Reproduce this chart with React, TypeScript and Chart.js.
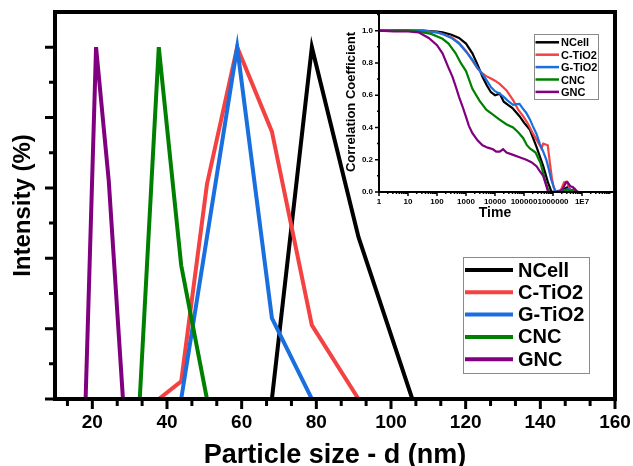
import React, { useEffect, useRef } from 'react';
import { Chart, registerables } from 'chart.js';

Chart.register(...registerables);

const FONT = "'Liberation Sans', Arial, sans-serif";

// ---------- series ----------
const seriesNames = ['NCell', 'C-TiO2', 'G-TiO2', 'CNC', 'GNC'];
const seriesColors = ['#000000', '#F44242', '#1A6FDF', '#008000', '#800080'];

// ---------- main chart: particle size distribution ----------
const ncellSize = [68.1, 78.8, 91.3, 105.7];
const ncellIntensity = [0, 100, 46, 0];
const ctio2Size = [37.8, 43.8, 50.7, 58.8, 68.1, 78.8, 91.3];
const ctio2Intensity = [0, 5, 61, 100, 76, 21, 0];
const gtio2Size = [43.8, 58.8, 68.1, 78.8];
const gtio2Intensity = [0, 100, 23, 0];
const cncSize = [32.7, 37.8, 43.8, 50.7];
const cncIntensity = [0, 100, 38, 0];
const gncSize = [18.2, 21.0, 24.4, 28.2];
const gncIntensity = [0, 100, 62, 0];

const sizeTickValues = [20, 40, 60, 80, 100, 120, 140, 160];
const intensityTickValues = [0, 20, 40, 60, 80, 100];

// ---------- inset: correlation function ----------
const ncellTime = [1, 32, 100, 155, 316, 575, 1000, 1660, 2500, 3700, 5250, 7200, 1e4, 1.45e4, 2e4, 2.8e4, 4e4, 7e4, 1e5, 1.6e5, 2.7e5, 4.6e5, 6.8e5, 8.9e5, 2e6, 3.2e6, 5e6, 1e8];
const ncellCorr = [1, 1, 0.995, 0.99, 0.975, 0.955, 0.92, 0.86, 0.79, 0.715, 0.66, 0.62, 0.6, 0.61, 0.56, 0.54, 0.52, 0.47, 0.43, 0.385, 0.28, 0.16, 0.056, 0, 0.01, 0.03, 0, 0];

const ctio2Time = [1, 32, 100, 155, 316, 575, 1000, 1660, 2500, 3700, 4800, 7000, 1e4, 1.45e4, 2.5e4, 4.2e4, 6.3e4, 9.3e4, 1.4e5, 2e5, 2.8e5, 3.5e5, 4e5, 4.6e5, 5.6e5, 6.6e5, 7.8e5, 9.1e5, 1.05e6, 1.26e6, 1.8e6, 2.4e6, 3e6, 3.5e6, 4.3e6, 5.6e6, 7e6, 1e8];
const ctio2Corr = [1, 1, 0.99, 0.98, 0.96, 0.925, 0.875, 0.815, 0.765, 0.735, 0.72, 0.705, 0.69, 0.67, 0.63, 0.57, 0.51, 0.47, 0.42, 0.365, 0.32, 0.29, 0.27, 0.3, 0.295, 0.29, 0.18, 0.09, 0.03, 0, 0.005, 0.06, 0.065, 0.03, 0, 0.01, 0, 0];

const gtio2Time = [1, 32, 100, 155, 316, 575, 1000, 1660, 2500, 3700, 5250, 7200, 1e4, 1.45e4, 2e4, 2.8e4, 4.2e4, 5.6e4, 7e4, 8.9e4, 1.2e5, 1.6e5, 2e5, 2.7e5, 3.5e5, 4.6e5, 5.9e5, 7.2e5, 8.7e5, 1.15e6, 1.3e6, 2.5e6, 3.5e6, 5e6, 1e8];
const gtio2Corr = [1, 1, 0.99, 0.98, 0.955, 0.92, 0.87, 0.82, 0.77, 0.73, 0.69, 0.65, 0.625, 0.61, 0.59, 0.565, 0.54, 0.545, 0.546, 0.52, 0.49, 0.45, 0.41, 0.36, 0.3, 0.25, 0.2, 0.14, 0.076, 0.014, 0, 0.01, 0.02, 0, 0];

const cncTime = [1, 10, 21, 63, 155, 250, 440, 660, 1000, 1660, 2950, 5000, 8500, 1.4e4, 2.45e4, 4.2e4, 6.3e4, 9.3e4, 1.26e5, 1.6e5, 2.5e5, 3.7e5, 5.2e5, 6.6e5, 7.6e5, 2e6, 3.2e6, 4e6, 5.6e6, 7e6, 1e8];
const cncCorr = [1, 1, 0.995, 0.98, 0.95, 0.92, 0.86, 0.8, 0.75, 0.64, 0.565, 0.51, 0.48, 0.45, 0.42, 0.4, 0.37, 0.335, 0.29, 0.27, 0.245, 0.18, 0.08, 0.02, 0, 0, 0.015, 0.005, 0.02, 0, 0];

const gncTime = [1, 3.2, 10, 23, 52, 100, 155, 250, 340, 450, 575, 760, 980, 1260, 1660, 2500, 3700, 5600, 8500, 1.1e4, 1.45e4, 1.9e4, 2.5e4, 4.2e4, 7e4, 1.2e5, 1.8e5, 2.7e5, 3.5e5, 4.6e5, 5.6e5, 6.8e5, 1.6e6, 2.2e6, 2.8e6, 3.2e6, 4e6, 4.9e6, 6.3e6, 7.9e6, 1e8];
const gncCorr = [1, 0.995, 0.995, 0.99, 0.955, 0.91, 0.86, 0.77, 0.715, 0.65, 0.59, 0.53, 0.47, 0.41, 0.365, 0.32, 0.29, 0.275, 0.265, 0.25, 0.25, 0.265, 0.245, 0.23, 0.215, 0.2, 0.185, 0.16, 0.13, 0.1, 0.05, 0, 0, 0.02, 0.06, 0.06, 0.035, 0.03, 0.005, 0, 0];

const timeTickValues = [1, 10, 100, 1000, 10000, 100000, 1000000, 10000000];
const timeTickLabels = ['1', '10', '100', '1000', '10000', '100000', '1000000', '1E7'];
const corrTickValues = [0, 0.2, 0.4, 0.6, 0.8, 1.0];

function pairs(xs: number[], ys: number[]) {
  return xs.map((x, i) => ({ x, y: ys[i] }));
}

const sizeSeries = [
  pairs(ncellSize, ncellIntensity),
  pairs(ctio2Size, ctio2Intensity),
  pairs(gtio2Size, gtio2Intensity),
  pairs(cncSize, cncIntensity),
  pairs(gncSize, gncIntensity),
];
const corrSeries = [
  pairs(ncellTime, ncellCorr),
  pairs(ctio2Time, ctio2Corr),
  pairs(gtio2Time, gtio2Corr),
  pairs(cncTime, cncCorr),
  pairs(gncTime, gncCorr),
];

function fixSize(prop: 'width' | 'height', size: number) {
  return (s: any) => {
    s[prop] = size;
    s.paddingLeft = 0;
    s.paddingRight = 0;
    s.paddingTop = 0;
    s.paddingBottom = 0;
  };
}

// ---------- plugins ----------
const boxLegend = {
  id: 'boxLegend',
  afterDraw(chart: any, _args: any, opts: any) {
    if (!opts || !opts.show) return;
    const { ctx } = chart;
    ctx.save();
    ctx.strokeStyle = '#8a8a8a';
    ctx.lineWidth = 1;
    ctx.fillStyle = '#ffffff';
    ctx.fillRect(opts.left, opts.top, opts.width, opts.height);
    ctx.strokeRect(opts.left + 0.5, opts.top + 0.5, opts.width, opts.height);
    ctx.font = `bold ${opts.fontSize}px ${FONT}`;
    ctx.textBaseline = 'middle';
    ctx.textAlign = 'left';
    chart.data.datasets.forEach((ds: any, i: number) => {
      const y = opts.rowStart + i * opts.rowGap;
      ctx.strokeStyle = ds.borderColor;
      ctx.lineWidth = opts.lineWidth;
      ctx.beginPath();
      ctx.moveTo(opts.lineX, y);
      ctx.lineTo(opts.lineX + opts.lineLen, y);
      ctx.stroke();
      ctx.fillStyle = '#000';
      ctx.fillText(ds.label, opts.textX, y + 1);
    });
    ctx.restore();
  },
};

const mainAxes = {
  id: 'mainAxes',
  afterDatasetsDraw(chart: any) {
    const { ctx, chartArea: a } = chart;
    const xs = chart.scales.x;
    const ys = chart.scales.y;
    ctx.save();
    ctx.strokeStyle = '#000';
    ctx.lineCap = 'butt';
    ctx.lineWidth = 3;
    ctx.beginPath();
    sizeTickValues.forEach((v) => {
      const p = xs.getPixelForValue(v);
      ctx.moveTo(p, a.bottom);
      ctx.lineTo(p, a.bottom + 10);
    });
    for (let m = 0; m <= 160; m += 20) {
      [m + 20 / 3, m + 40 / 3].forEach((v) => {
        if (v > xs.min && v < xs.max) {
          const p = xs.getPixelForValue(v);
          ctx.moveTo(p, a.bottom);
          ctx.lineTo(p, a.bottom + 7);
        }
      });
    }
    intensityTickValues.forEach((v) => {
      const p = ys.getPixelForValue(v);
      ctx.moveTo(a.left, p);
      ctx.lineTo(a.left - 10, p);
      const mv = v + 10;
      if (mv < ys.max) {
        const q = ys.getPixelForValue(mv);
        ctx.moveTo(a.left, q);
        ctx.lineTo(a.left - 6, q);
      }
    });
    ctx.stroke();
    ctx.lineWidth = 4;
    ctx.strokeRect(a.left, a.top, a.right - a.left, a.bottom - a.top);
    ctx.restore();
  },
};

const insetAxes = {
  id: 'insetAxes',
  afterDatasetsDraw(chart: any) {
    const { ctx, chartArea: a } = chart;
    const xs = chart.scales.x;
    const ys = chart.scales.y;
    ctx.save();
    ctx.strokeStyle = '#000';
    ctx.lineWidth = 1.5;
    ctx.beginPath();
    timeTickValues.forEach((v) => {
      const p = xs.getPixelForValue(v);
      ctx.moveTo(p, a.bottom);
      ctx.lineTo(p, a.bottom + 4);
      for (let k = 2; k < 10; k++) {
        const mv = v * k;
        if (mv < xs.max) {
          const q = xs.getPixelForValue(mv);
          ctx.moveTo(q, a.bottom);
          ctx.lineTo(q, a.bottom + 2);
        }
      }
    });
    corrTickValues.forEach((v) => {
      const p = ys.getPixelForValue(v);
      ctx.moveTo(a.left, p);
      ctx.lineTo(a.left - 4, p);
      const mv = v + 0.1;
      if (mv < ys.max) {
        const q = ys.getPixelForValue(mv);
        ctx.moveTo(a.left, q);
        ctx.lineTo(a.left - 2, q);
      }
    });
    ctx.stroke();
    ctx.lineWidth = 2;
    ctx.beginPath();
    ctx.moveTo(a.left, a.top);
    ctx.lineTo(a.left, a.bottom);
    ctx.lineTo(a.right + 4, a.bottom);
    ctx.stroke();
    ctx.restore();
  },
};

export default function App() {
  const mainRef = useRef<HTMLCanvasElement>(null);
  const insetRef = useRef<HTMLCanvasElement>(null);

  useEffect(() => {
    Chart.defaults.font.family = FONT;
    const main = new Chart(mainRef.current as HTMLCanvasElement, {
      type: 'line',
      data: {
        datasets: sizeSeries.map((d, i) => ({
          label: seriesNames[i],
          data: d,
          borderColor: seriesColors[i],
          backgroundColor: seriesColors[i],
          borderWidth: 4,
          pointRadius: 0,
          tension: 0,
          fill: false,
          order: 5 - i,
        })),
      },
      options: {
        animation: false,
        responsive: false,
        devicePixelRatio: 1,
        layout: { padding: { top: 12, right: 18, left: 0, bottom: 0 } },
        plugins: {
          legend: { display: false },
          tooltip: { enabled: false },
          boxLegend: {
            show: true,
            left: 463,
            top: 257,
            width: 126,
            height: 116,
            rowStart: 270,
            rowGap: 22.3,
            lineX: 465,
            lineLen: 48,
            lineWidth: 4,
            textX: 518,
            fontSize: 20,
          },
        } as any,
        scales: {
          x: {
            type: 'linear',
            min: 10,
            max: 160,
            afterFit: fixSize('height', 67),
            afterBuildTicks: (s: any) => { s.ticks = sizeTickValues.map((v) => ({ value: v })); },
            grid: { display: false, drawTicks: false, tickLength: 0 },
            border: { display: false },
            ticks: {
              autoSkip: false,
              maxRotation: 0,
              padding: 12,
              color: '#000',
              font: { family: FONT, size: 19, weight: 'bold' },
            },
            title: {
              display: true,
              text: 'Particle size - d (nm)',
              color: '#000',
              font: { family: FONT, size: 27, weight: 'bold', lineHeight: 1 },
              padding: { top: 0, bottom: -3 },
            },
          },
          y: {
            type: 'linear',
            min: 0,
            max: 110,
            afterFit: fixSize('width', 55),
            afterBuildTicks: (s: any) => { s.ticks = intensityTickValues.map((v) => ({ value: v })); },
            grid: { display: false, drawTicks: false, tickLength: 0 },
            border: { display: false },
            ticks: { display: false },
            title: {
              display: true,
              text: 'Intensity (%)',
              color: '#000',
              font: { family: FONT, size: 24, weight: 'bold', lineHeight: 1.2 },
              padding: { top: 9, bottom: 0 },
            },
          },
        },
      } as any,
      plugins: [mainAxes, boxLegend],
    });

    const inset = new Chart(insetRef.current as HTMLCanvasElement, {
      type: 'line',
      data: {
        datasets: corrSeries.map((d, i) => ({
          label: seriesNames[i],
          data: d,
          borderColor: seriesColors[i],
          backgroundColor: seriesColors[i],
          borderWidth: 2.2,
          pointRadius: 0,
          tension: 0,
          fill: false,
          order: 5 - i,
        })),
      },
      options: {
        animation: false,
        responsive: false,
        devicePixelRatio: 1,
        layout: { padding: { top: 12, right: 9, left: 0, bottom: 0 } },
        plugins: {
          legend: { display: false },
          tooltip: { enabled: false },
          boxLegend: {
            show: true,
            left: 204,
            top: 34,
            width: 64,
            height: 65,
            rowStart: 42.3,
            rowGap: 12.4,
            lineX: 205.5,
            lineLen: 23.5,
            lineWidth: 2.5,
            textX: 231,
            fontSize: 11,
          },
        } as any,
        scales: {
          x: {
            type: 'logarithmic',
            min: 1,
            max: 1e8,
            afterFit: fixSize('height', 48),
            afterBuildTicks: (s: any) => { s.ticks = timeTickValues.map((v) => ({ value: v })); },
            grid: { display: false, drawTicks: false, tickLength: 0 },
            border: { display: false },
            ticks: {
              autoSkip: false,
              maxRotation: 0,
              padding: 5,
              color: '#000',
              font: { family: FONT, size: 8, weight: 'bold' },
              callback: (_v: any, i: number) => timeTickLabels[i],
            },
            title: {
              display: true,
              text: 'Time',
              color: '#000',
              font: { family: FONT, size: 14, weight: 'bold', lineHeight: 1.2 },
              padding: { top: 0, bottom: 18 },
            },
          },
          y: {
            type: 'linear',
            min: 0,
            max: 1.116,
            afterFit: fixSize('width', 49),
            afterBuildTicks: (s: any) => { s.ticks = corrTickValues.map((v) => ({ value: v })); },
            grid: { display: false, drawTicks: false, tickLength: 0 },
            border: { display: false },
            ticks: {
              padding: 6,
              color: '#000',
              font: { family: FONT, size: 8, weight: 'bold' },
              callback: (v: any) => Number(v).toFixed(1),
            },
            title: {
              display: true,
              text: 'Correlation Coefficient',
              color: '#000',
              font: { family: FONT, size: 13, weight: 'bold', lineHeight: 1.2 },
              padding: { top: 14, bottom: 0 },
            },
          },
        },
      } as any,
      plugins: [insetAxes, boxLegend],
    });

    return () => {
      main.destroy();
      inset.destroy();
    };
  }, []);

  return (
    <div style={{ position: 'fixed', left: 0, top: 0, width: 633, height: 466, background: '#ffffff' }}>
      <canvas ref={mainRef} width={633} height={466} style={{ position: 'absolute', left: 0, top: 0 }} />
      <canvas ref={insetRef} width={290} height={240} style={{ position: 'absolute', left: 330, top: 0 }} />
    </div>
  );
}
